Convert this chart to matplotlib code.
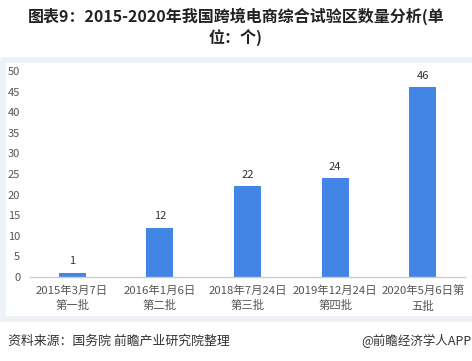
import matplotlib
matplotlib.use("Agg")
import matplotlib.pyplot as plt
from matplotlib.patches import Rectangle

plt.rcParams['font.family'] = ['Noto Sans CJK SC', 'DejaVu Sans']

categories = ["2015年3月7日\n第一批", "2016年1月6日\n第二批", "2018年7月24日\n第三批",
              "2019年12月24日\n第四批", "2020年5月6日第\n五批"]
values = [1, 12, 22, 24, 46]
yticks = [0, 5, 10, 15, 20, 25, 30, 35, 40, 45, 50]

W, H = 472, 361
fig = plt.figure(figsize=(W / 100, H / 100), dpi=100)
fig.patch.set_facecolor("white")

# panel background
panel = Rectangle((3 / W, 1 - 319 / H), 472 / W, (319 - 60) / H, transform=fig.transFigure,
                  facecolor="white", edgecolor="#edf1f8", linewidth=4, zorder=-1)
fig.add_artist(panel)

ax = fig.add_axes([30 / W, 1 - 277 / H, 435 / W, 206 / H])
ax.set_zorder(1)
ax.set_facecolor("none")
x = list(range(len(values)))
bars = ax.bar(x, values, width=0.31, color="#4285e4", zorder=2)
for xi, v in zip(x, values):
    ax.text(xi, v + 1.6, str(v), ha="center", va="bottom", fontsize=8, color="#333333")

ax.set_xlim(-0.48, 4.48)
ax.set_ylim(0, 50)
ax.set_yticks(yticks)
ax.set_xticks(x)
ax.set_xticklabels(categories, fontsize=8.2, color="#555555", linespacing=1.5)
ax.tick_params(axis="y", labelsize=8, labelcolor="#555555", length=0, pad=7)
ax.tick_params(axis="x", length=0, pad=6)
for s in ["top", "right", "left"]:
    ax.spines[s].set_visible(False)
ax.spines["bottom"].set_color("#cccccc")
ax.spines["bottom"].set_linewidth(1)

fig.text(0.5, 1 - 16 / H, "图表9：2015-2020年我国跨境电商综合试验区数量分析(单", ha="center", va="center",
         fontsize=11.5, fontweight="bold", color="#222222")
fig.text(0.5, 1 - 37 / H, "位：个)", ha="center", va="center",
         fontsize=11.5, fontweight="bold", color="#222222")

fig.text(8 / W, 1 - 341 / H, "资料来源：国务院 前瞻产业研究院整理", ha="left", va="center",
         fontsize=9.3, color="#333333")
fig.text(471 / W, 1 - 341 / H, "@前瞻经济学人APP", ha="right", va="center",
         fontsize=9, color="#333333")

fig.savefig("out.png", dpi=100)
